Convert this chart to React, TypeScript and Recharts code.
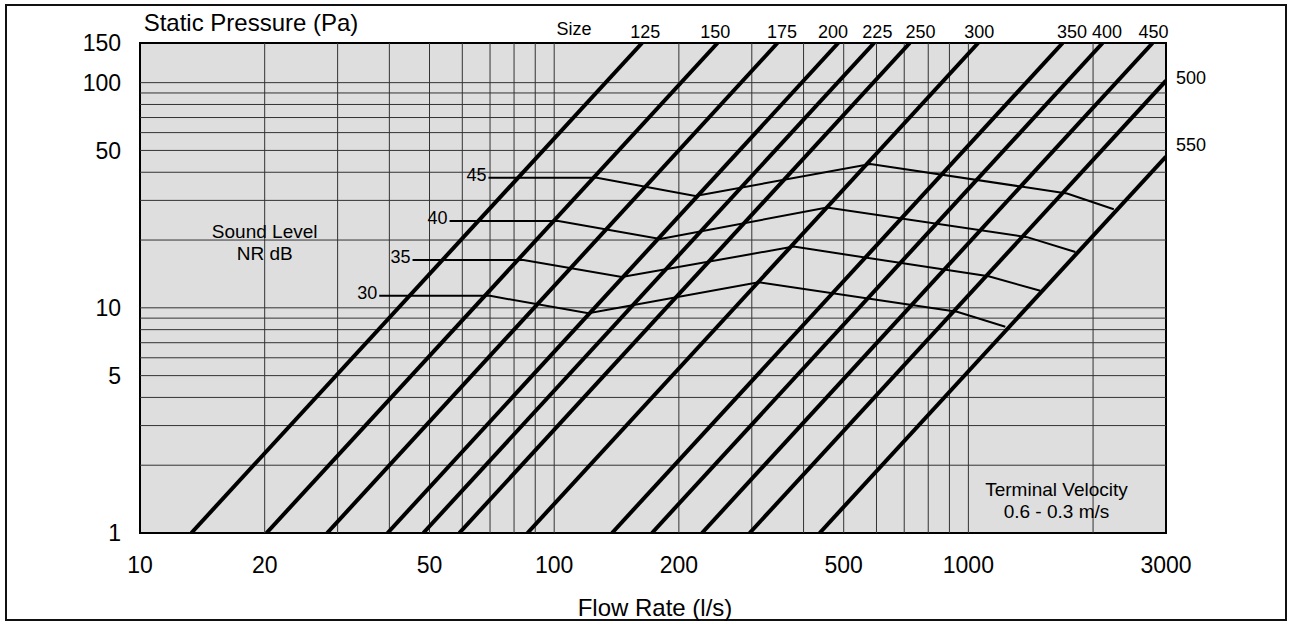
import {
  LineChart,
  Line,
  XAxis,
  YAxis,
  CartesianGrid,
  ReferenceLine,
  ReferenceDot,
  ReferenceArea,
} from 'recharts';

const FONT = '"Liberation Sans", Arial, Helvetica, sans-serif';

// axes
const xTicks = [10, 20, 50, 100, 200, 500, 1000, 3000];
const yTicks = [1, 5, 10, 50, 100, 150];
const gridX = [20, 30, 40, 50, 60, 70, 80, 90, 100, 200, 300, 400, 500, 600, 700, 800, 900, 1000, 2000];
const gridY = [2, 3, 4, 5, 6, 7, 8, 9, 10, 20, 30, 40, 50, 60, 70, 80, 90, 100];

// duct size lines: flow at 1 Pa, and where each line leaves the plot
const ductSizes = ['125', '150', '175', '200', '225', '250', '300', '350', '400', '450', '500', '550'];
const ductStartQ = [13.3, 20.2, 28.3, 39.6, 48.3, 59.0, 86.2, 137.9, 172.2, 227.4, 296.4, 437.4];
const ductEndQ = [163, 248, 346, 485, 592, 722, 1056, 1689, 2109, 2785, 3000, 3000];
const ductEndP = [150, 150, 150, 150, 150, 150, 150, 150, 150, 150, 102, 47];

// size labels along the top, and the two on the right side
const topSizes = ['125', '150', '175', '200', '225', '250', '300', '350', '400', '450'];
const topLabelQ = [166, 245, 355, 471, 603, 766, 1063, 1780, 2160, 2798];
const sideSizes = ['500', '550'];
const sideLabelP = [104.8, 53.1];

// sound level (NR) curves
const nr30Q = [37.8, 70.0, 121.0, 311.5, 939, 1228];
const nr30P = [11.3, 11.3, 9.45, 13.0, 9.6, 8.24];
const nr35Q = [45.5, 84.3, 145.7, 378.4, 1119, 1492];
const nr35P = [16.3, 16.3, 13.7, 18.7, 13.8, 11.9];
const nr40Q = [55.9, 102.4, 180.3, 455.7, 1386, 1813];
const nr40P = [24.3, 24.3, 20.2, 27.9, 20.6, 17.7];
const nr45Q = [69.4, 126.8, 219.1, 580, 1731, 2244];
const nr45P = [37.8, 37.8, 31.4, 43.5, 32.2, 27.4];

const toPoints = (qs: number[], ps: number[]) => qs.map((q, i) => ({ q, p: ps[i] }));

const ducts = ductSizes.map((size, i) => ({
  size,
  data: [
    { q: ductStartQ[i], p: 1 },
    { q: ductEndQ[i], p: ductEndP[i] },
  ],
}));

const nrCurves = [
  { level: '30', data: toPoints(nr30Q, nr30P) },
  { level: '35', data: toPoints(nr35Q, nr35P) },
  { level: '40', data: toPoints(nr40Q, nr40P) },
  { level: '45', data: toPoints(nr45Q, nr45P) },
];

const txt = { fontSize: 18, fill: '#000' };
const note = { fontSize: 19, fill: '#000' };

export default function App() {
  return (
    <div style={{ position: 'absolute', left: 0, top: 0, width: 1293, height: 622, background: '#fff', fontFamily: FONT }}>
      <div
        style={{
          position: 'absolute',
          left: 5,
          top: 4,
          width: 1282,
          height: 617,
          border: '2px solid #111',
          boxSizing: 'border-box',
        }}
      />
      <div style={{ position: 'absolute', left: 0, top: 0 }}>
        <LineChart
          width={1293}
          height={622}
          margin={{ top: 43, right: 127, bottom: 29, left: 80 }}
          style={{ fontFamily: FONT }}
        >
          <CartesianGrid fill="#dedede" horizontal={false} vertical={false} />
          <XAxis
            dataKey="q"
            type="number"
            scale="log"
            domain={[10, 3000]}
            allowDataOverflow
            ticks={xTicks}
            height={60}
            tickSize={0}
            tickMargin={24}
            tickLine={false}
            axisLine={false}
            tick={{ fontSize: 23, fill: '#000' }}
            label={{ value: 'Flow Rate (l/s)', position: 'bottom', offset: 6, dx: 2, fontSize: 24, fill: '#000' }}
          />
          <YAxis
            dataKey="p"
            type="number"
            scale="log"
            domain={[1, 150]}
            allowDataOverflow
            ticks={yTicks}
            width={60}
            tickSize={0}
            tickMargin={19}
            tickLine={false}
            axisLine={false}
            tick={{ fontSize: 23, fill: '#000' }}
            label={{ value: 'Static Pressure (Pa)', position: 'top', offset: 12, dx: 141, fontSize: 24, fill: '#000' }}
          />

          {gridX.map((v) => (
            <ReferenceLine key={'gx' + v} x={v} stroke="#333" strokeWidth={1} />
          ))}
          {gridY.map((v) => (
            <ReferenceLine key={'gy' + v} y={v} stroke="#333" strokeWidth={1} />
          ))}

          {ducts.map((d) => (
            <Line
              key={'duct' + d.size}
              data={d.data}
              dataKey="p"
              type="linear"
              stroke="#000"
              strokeWidth={4}
              dot={false}
              activeDot={false}
              isAnimationActive={false}
            />
          ))}

          {nrCurves.map((c) => (
            <Line
              key={'nr' + c.level}
              data={c.data}
              dataKey="p"
              type="linear"
              stroke="#000"
              strokeWidth={2}
              dot={false}
              activeDot={false}
              isAnimationActive={false}
            />
          ))}

          <ReferenceArea x1={10} x2={3000} y1={1} y2={150} fill="none" stroke="#000" strokeWidth={2} />

          {nrCurves.map((c) => (
            <ReferenceDot
              key={'nrl' + c.level}
              x={c.data[0].q}
              y={c.data[0].p}
              r={0}
              ifOverflow="visible"
              label={{ value: c.level, position: 'left', offset: 2, dy: -3, ...txt }}
            />
          ))}

          <ReferenceDot x={111.7} y={150} r={0} ifOverflow="visible" label={{ value: 'Size', position: 'top', offset: 8, ...txt }} />
          {topSizes.map((s, i) => (
            <ReferenceDot
              key={'ts' + s}
              x={topLabelQ[i]}
              y={150}
              r={0}
              ifOverflow="visible"
              label={{ value: s, position: 'top', offset: 5, ...txt }}
            />
          ))}
          {sideSizes.map((s, i) => (
            <ReferenceDot
              key={'ss' + s}
              x={3000}
              y={sideLabelP[i]}
              r={0}
              ifOverflow="visible"
              label={{ value: s, position: 'right', offset: 10, ...txt }}
            />
          ))}

          <ReferenceDot x={20} y={21.9} r={0} ifOverflow="visible" label={{ value: 'Sound Level', position: 'center', ...note }} />
          <ReferenceDot x={20} y={17.5} r={0} ifOverflow="visible" label={{ value: 'NR  dB', position: 'center', ...note }} />
          <ReferenceDot x={1632} y={1.568} r={0} ifOverflow="visible" label={{ value: 'Terminal Velocity', position: 'center', ...note }} />
          <ReferenceDot x={1632} y={1.243} r={0} ifOverflow="visible" label={{ value: '0.6 - 0.3 m/s', position: 'center', ...note }} />
        </LineChart>
      </div>
    </div>
  );
}
